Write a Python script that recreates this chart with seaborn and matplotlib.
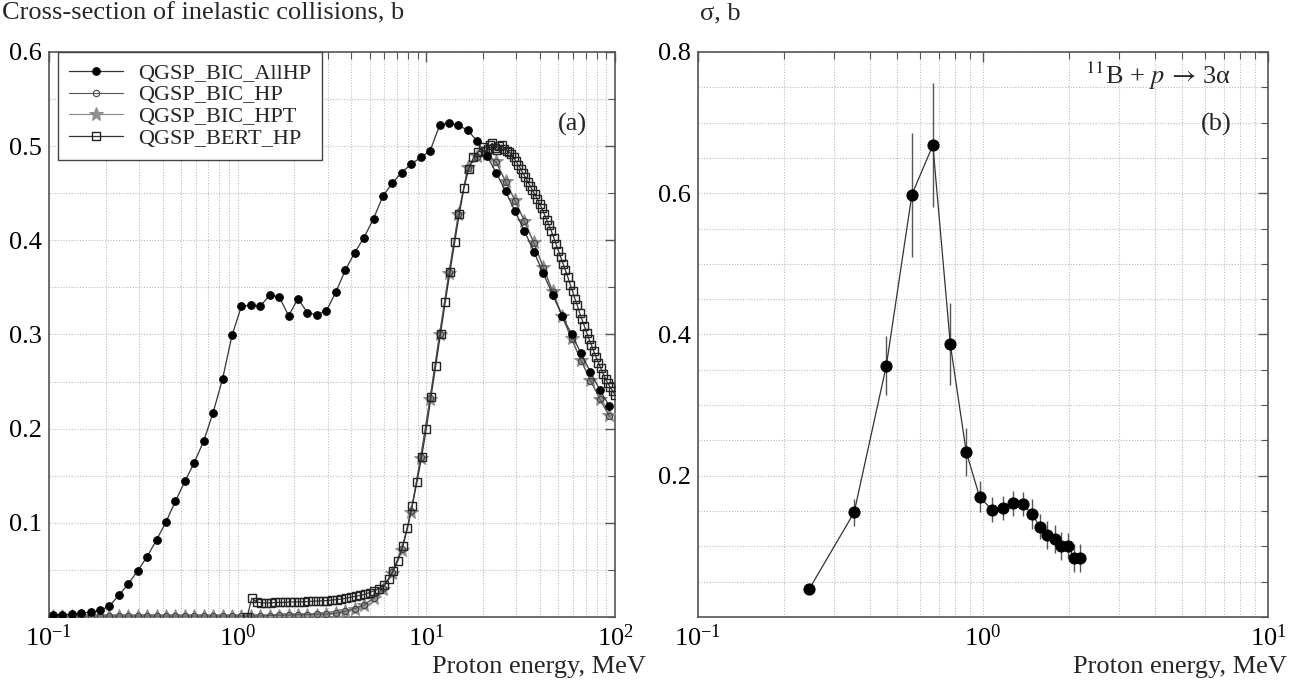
import numpy as np
import matplotlib
matplotlib.use("Agg")
import matplotlib.pyplot as plt
import seaborn as sns
from matplotlib.ticker import (MultipleLocator, LogLocator, NullFormatter,
                               FixedLocator, FormatStrFormatter)

sns.set_theme(style="white")
plt.rcParams["font.family"] = ["Liberation Serif", "DejaVu Serif"]
plt.rcParams["mathtext.fontset"] = "stix"

# ---- panel (a): inelastic cross-sections, 20 points per decade ----
energy_grid = [0.105, 0.117, 0.132, 0.148, 0.166, 0.186, 0.209, 0.234, 0.263, 0.295,
               0.331, 0.372, 0.417, 0.468, 0.525, 0.589, 0.661, 0.741, 0.832, 0.933,
               1.047, 1.175, 1.318, 1.479, 1.660, 1.862, 2.089, 2.344, 2.630, 2.951,
               3.311, 3.715, 4.169, 4.677, 5.248, 5.888, 6.607, 7.413, 8.318, 9.333,
               10.47, 11.75, 13.18, 14.79, 16.60, 18.62, 20.89, 23.44, 26.30, 29.51,
               33.11, 37.15, 41.69, 46.77, 52.48, 58.88, 66.07, 74.13, 83.18, 93.33]

bic_allhp = [0.0025, 0.0025, 0.003, 0.004, 0.005, 0.007, 0.0115, 0.023, 0.035, 0.049,
             0.064, 0.082, 0.101, 0.123, 0.144, 0.164, 0.187, 0.217, 0.253, 0.299,
             0.330, 0.331, 0.330, 0.342, 0.340, 0.320, 0.338, 0.323, 0.321, 0.325,
             0.345, 0.368, 0.387, 0.403, 0.423, 0.447, 0.461, 0.472, 0.481, 0.488,
             0.495, 0.522, 0.525, 0.522, 0.517, 0.505, 0.490, 0.472, 0.452, 0.431,
             0.410, 0.388, 0.365, 0.342, 0.320, 0.300, 0.280, 0.260, 0.241, 0.224]

bic_hpt = [0.001, 0.001, 0.001, 0.001, 0.001, 0.001, 0.001, 0.001, 0.001, 0.001,
           0.001, 0.001, 0.001, 0.001, 0.001, 0.001, 0.001, 0.001, 0.001, 0.001,
           0.001, 0.001, 0.001, 0.001, 0.0015, 0.002, 0.002, 0.002, 0.0025, 0.003,
           0.004, 0.006, 0.009, 0.013, 0.020, 0.030, 0.047, 0.071, 0.112, 0.169,
           0.232, 0.300, 0.365, 0.428, 0.478, 0.490, 0.492, 0.484, 0.463, 0.443,
           0.421, 0.398, 0.372, 0.346, 0.320, 0.296, 0.273, 0.252, 0.232, 0.214]

bic_hp = [0.001, 0.001, 0.001, 0.001, 0.001, 0.001, 0.001, 0.001, 0.001, 0.001,
          0.001, 0.001, 0.001, 0.001, 0.001, 0.001, 0.001, 0.001, 0.001, 0.001,
          0.001, 0.001, 0.001, 0.0015, 0.002, 0.002, 0.0025, 0.0025, 0.003, 0.003,
          0.004, 0.006, 0.009, 0.013, 0.020, 0.031, 0.048, 0.072, 0.113, 0.170,
          0.233, 0.300, 0.366, 0.428, 0.477, 0.489, 0.491, 0.483, 0.462, 0.442,
          0.420, 0.397, 0.371, 0.345, 0.319, 0.295, 0.272, 0.251, 0.231, 0.213]

# BERT_HP is sampled much more densely (reads as a solid band above 20 MeV)
bert_energy = [1.122, 1.189, 1.259, 1.334, 1.413, 1.496, 1.585, 1.679, 1.778, 1.884,
               1.995, 2.113, 2.239, 2.371, 2.512, 2.661, 2.818, 2.985, 3.162, 3.350,
               3.548, 3.758, 3.981, 4.217, 4.467, 4.732, 5.012, 5.309, 5.623, 5.957,
               6.310, 6.683, 7.079, 7.499, 7.943, 8.414, 8.913, 9.441, 10.00, 10.59,
               11.22, 11.89, 12.59, 13.34, 14.13, 14.96, 15.85, 16.79, 17.78, 18.84,
               19.95, 20.54, 21.13, 21.75, 22.39, 23.04, 23.71, 24.40, 25.12, 25.85,
               26.61, 27.38, 28.18, 29.00, 29.85, 30.72, 31.62, 32.54, 33.50, 34.47,
               35.48, 36.52, 37.58, 38.68, 39.81, 40.97, 42.17, 43.40, 44.67, 45.97,
               47.32, 48.70, 50.12, 51.58, 53.09, 54.64, 56.23, 57.88, 59.57, 61.31,
               63.10, 64.94, 66.83, 68.79, 70.79, 72.86, 74.99, 77.18, 79.43, 81.75,
               84.14, 86.60, 89.13, 91.73, 94.41, 97.16, 100.0]

bert_hp = [0.000, 0.020, 0.016, 0.015, 0.015, 0.015, 0.0155, 0.0155, 0.0155, 0.016,
           0.016, 0.016, 0.0162, 0.0165, 0.0167, 0.017, 0.0172, 0.0175, 0.018, 0.0185,
           0.019, 0.020, 0.021, 0.022, 0.023, 0.024, 0.026, 0.028, 0.030, 0.034,
           0.040, 0.049, 0.060, 0.075, 0.094, 0.118, 0.143, 0.170, 0.200, 0.234,
           0.267, 0.301, 0.334, 0.366, 0.398, 0.428, 0.456, 0.476, 0.488, 0.494,
           0.499, 0.495, 0.497, 0.501, 0.503, 0.498, 0.496, 0.500, 0.501, 0.497,
           0.495, 0.494, 0.492, 0.488, 0.484, 0.480, 0.476, 0.471, 0.467, 0.462,
           0.458, 0.453, 0.449, 0.444, 0.439, 0.434, 0.428, 0.422, 0.416, 0.410,
           0.403, 0.396, 0.389, 0.382, 0.375, 0.368, 0.361, 0.353, 0.346, 0.338,
           0.331, 0.323, 0.316, 0.309, 0.302, 0.295, 0.289, 0.282, 0.276, 0.270,
           0.264, 0.258, 0.253, 0.248, 0.244, 0.240, 0.236]

# ---- panel (b): 11B + p -> 3 alpha ----
b_energy = [0.246, 0.353, 0.458, 0.563, 0.667, 0.768, 0.873, 0.973, 1.073, 1.173,
            1.278, 1.380, 1.482, 1.585, 1.680, 1.787, 1.883, 1.983, 2.089, 2.188]
b_sigma = [0.040, 0.148, 0.356, 0.598, 0.668, 0.386, 0.234, 0.170, 0.152, 0.155,
           0.161, 0.160, 0.146, 0.128, 0.116, 0.110, 0.101, 0.101, 0.084, 0.084]
b_err = [0.0, 0.019, 0.042, 0.088, 0.088, 0.058, 0.034, 0.022, 0.018, 0.017,
         0.018, 0.017, 0.021, 0.018, 0.020, 0.020, 0.020, 0.018, 0.020, 0.020]

W, H = 1291, 683
fig = plt.figure(figsize=(W / 100, H / 100), dpi=100)
ax1 = fig.add_axes([49 / W, 66 / H, 566 / W, 565 / H])
ax2 = fig.add_axes([698 / W, 66 / H, 570 / W, 565 / H])

FS = 19


def style_axes(ax, xlim, ymax, ymajor):
    ax.set_xscale("log")
    ax.set_xlim(*xlim)
    ax.set_ylim(0, ymax)
    ax.yaxis.set_major_locator(FixedLocator(ymajor))
    ax.yaxis.set_major_formatter(FormatStrFormatter("%.1f"))
    ax.yaxis.set_minor_locator(MultipleLocator(0.05))
    ax.xaxis.set_major_locator(LogLocator(base=10))
    ax.xaxis.set_minor_locator(LogLocator(base=10, subs=np.arange(2, 10)))
    ax.xaxis.set_minor_formatter(NullFormatter())
    ax.grid(True, which="both", ls=(0, (1, 1.5)), color="#bdbdbd", lw=0.8)
    ax.tick_params(which="both", direction="in", top=True, right=True,
                   color="#555555", labelcolor="black")
    ax.tick_params(which="major", length=7, width=1, labelsize=FS, pad=5)
    ax.tick_params(which="minor", length=5, width=0.8)
    for s in ax.spines.values():
        s.set_color("#555555")
        s.set_linewidth(1.2)
    ax.set_xlabel("")
    ax.set_ylabel("")


# panel (a)
sns.lineplot(x=energy_grid, y=bic_allhp, ax=ax1, color="#333333", lw=0.9,
             marker="o", markersize=5.5, markerfacecolor="black",
             markeredgecolor="black", label="QGSP_BIC_AllHP", zorder=6,
             errorbar=None)
sns.lineplot(x=energy_grid, y=bic_hp, ax=ax1, color="#555555", lw=0.8,
             marker="o", markersize=4.5, markerfacecolor="none",
             markeredgecolor="#444444", markeredgewidth=0.8,
             label="QGSP_BIC_HP", zorder=4, errorbar=None)
sns.lineplot(x=energy_grid, y=bic_hpt, ax=ax1, color="#888888", lw=0.8,
             marker="*", markersize=10, markerfacecolor="#8f8f8f",
             markeredgecolor="#8f8f8f", label="QGSP_BIC_HPT", zorder=3,
             errorbar=None)
sns.lineplot(x=bert_energy, y=bert_hp, ax=ax1, color="#333333", lw=0.9,
             marker="s", markersize=5.5, markerfacecolor="none",
             markeredgecolor="#222222", markeredgewidth=1.0,
             label="QGSP_BERT_HP", zorder=5, errorbar=None)
style_axes(ax1, (0.1, 100), 0.6, [0.1, 0.2, 0.3, 0.4, 0.5, 0.6])

leg = ax1.legend(loc="upper left", bbox_to_anchor=(0.016, 1.0), frameon=True,
                 fancybox=False, edgecolor="#444444", framealpha=1,
                 fontsize=16, handlelength=2.4, labelspacing=0.05,
                 borderpad=0.5, handletextpad=0.7, borderaxespad=0)
leg.get_frame().set_linewidth(1.0)
ax1.text(0.95, 0.872, "(a)", transform=ax1.transAxes, ha="right",
         va="center", fontsize=FS)

# panel (b)
ax2.errorbar(b_energy, b_sigma, yerr=b_err, fmt="none", ecolor="#555555",
             elinewidth=1.0, capsize=0, zorder=2)
sns.lineplot(x=b_energy, y=b_sigma, ax=ax2, color="#333333", lw=0.9,
             marker="o", markersize=8, markerfacecolor="black",
             markeredgecolor="black", zorder=3, errorbar=None)
style_axes(ax2, (0.1, 10), 0.8, [0.2, 0.4, 0.6, 0.8])
ax2.text(0.935, 0.957, r"$^{11}$B + $p$$\,\rightarrow\,$3α",
         transform=ax2.transAxes, ha="right", va="center", fontsize=FS)
ax2.text(0.937, 0.871, "(b)", transform=ax2.transAxes, ha="right",
         va="center", fontsize=FS)

# captions around the panels
fig.text(2 / W, 1 - 2 / H, "Cross-section of inelastic collisions, b",
         ha="left", va="top", fontsize=FS)
fig.text(700 / W, 1 - 2 / H, "σ, b", ha="left", va="top", fontsize=FS)
fig.text(646 / W, 1 - 667 / H, "Proton energy, MeV", ha="right",
         va="center", fontsize=FS)
fig.text(1287 / W, 1 - 667 / H, "Proton energy, MeV", ha="right",
         va="center", fontsize=FS)

fig.savefig("out.png", dpi=100)
